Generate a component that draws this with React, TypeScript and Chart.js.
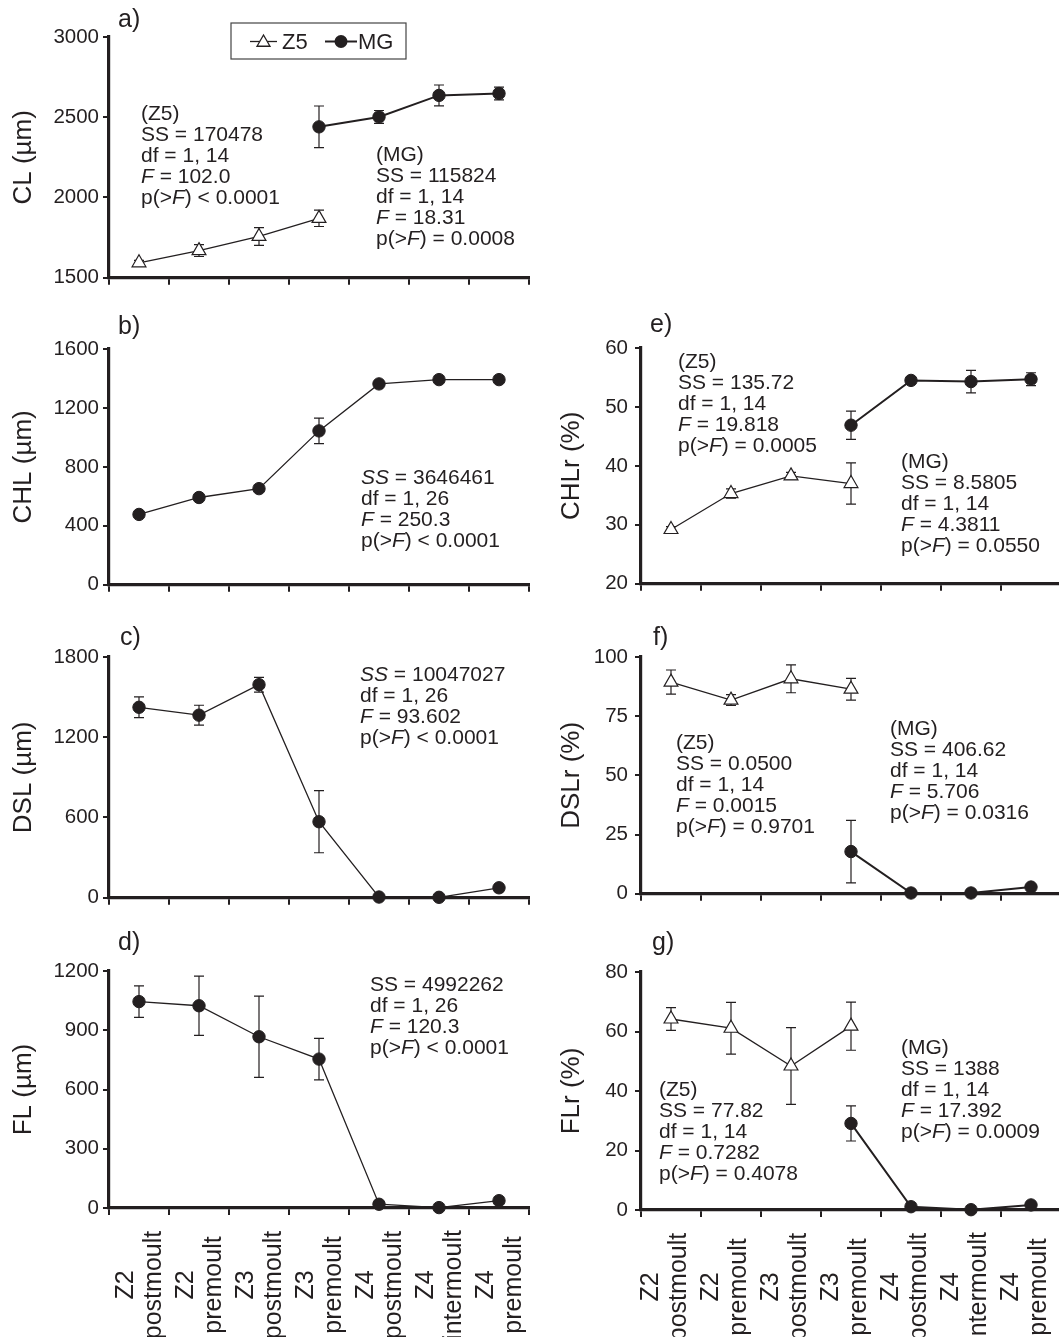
import React, { useEffect, useRef } from 'react';
import { Chart, registerables } from 'chart.js';

Chart.register(...registerables);

const FONT = "'Liberation Sans', Arial, Helvetica, sans-serif";
const INK = '#231f20';
Chart.defaults.font.family = FONT;
Chart.defaults.color = INK;

// ---------- data ----------
const stages: string[][] = [
  ['Z2', 'postmoult'],
  ['Z2', 'premoult'],
  ['Z3', 'postmoult'],
  ['Z3', 'premoult'],
  ['Z4', 'postmoult'],
  ['Z4', 'intermoult'],
  ['Z4', 'premoult'],
];

// a) CL (µm)
const clTicks = [1500, 2000, 2500, 3000];
const clZ5 = [1593, 1669, 1757, 1870, null, null, null];
const clZ5Err = [15, 37, 55, 51, null, null, null];
const clMG = [null, null, null, 2440, 2502, 2636, 2648];
const clMGErr = [null, null, null, 130, 40, 65, 40];

// b) CHL (µm)
const chlTicks = [0, 400, 800, 1200, 1600];
const chl = [477, 592, 652, 1044, 1363, 1392, 1392];
const chlErr = [10, 15, 15, 87, 15, 12, 12];

// c) DSL (µm)
const dslTicks = [0, 600, 1200, 1800];
const dsl = [1424, 1365, 1593, 568, 5, 3, 74];
const dslErr = [78, 74, 55, 232, 5, 5, 25];

// d) FL (µm)
const flTicks = [0, 300, 600, 900, 1200];
const fl = [1045, 1024, 867, 754, 19, 2, 37];
const flErr = [80, 150, 206, 105, 10, 3, 10];

// e) CHLr (%)
const chlrTicks = [20, 30, 40, 50, 60];
const chlrZ5 = [29.2, 35.3, 38.3, 37.0, null, null, null];
const chlrZ5Err = [0.5, 0.8, 0.6, 3.5, null, null, null];
const chlrMG = [null, null, null, 46.9, 54.5, 54.3, 54.7];
const chlrMGErr = [null, null, null, 2.4, 0.6, 1.9, 1.1];

// f) DSLr (%)
const dslrTicks = [0, 25, 50, 75, 100];
const dslrZ5 = [89.4, 81.8, 90.8, 86.4, null, null, null];
const dslrZ5Err = [5.1, 2.3, 5.9, 4.6, null, null, null];
const dslrMG = [null, null, null, 17.8, 0.3, 0.3, 2.8];
const dslrMGErr = [null, null, null, 13.2, 0.3, 0.3, 0.5];

// g) FLr (%)
const flrTicks = [0, 20, 40, 60, 80];
const flrZ5 = [64.2, 61.1, 48.4, 61.8, null, null, null];
const flrZ5Err = [3.8, 8.7, 12.9, 8.1, null, null, null];
const flrMG = [null, null, null, 29.1, 1.1, 0.1, 1.7];
const flrMGErr = [null, null, null, 5.9, 0.3, 0.1, 0.4];

// ---------- panel configuration ----------
type Series = { label: string; data: (number | null)[]; err: (number | null)[]; kind: 'tri' | 'dot'; width: number };
type PanelCfg = {
  id: string;
  col: 'L' | 'R';
  plotTop: number;
  plotBottom: number;
  ticks: number[];
  title: string;
  series: Series[];
  xLabels: boolean;
  legend?: boolean;
};

const panels: PanelCfg[] = [
  {
    id: 'a', col: 'L', plotTop: 37, plotBottom: 280, ticks: clTicks, title: 'CL (µm)', xLabels: false, legend: true,
    series: [
      { label: 'Z5', data: clZ5, err: clZ5Err, kind: 'tri', width: 1.3 },
      { label: 'MG', data: clMG, err: clMGErr, kind: 'dot', width: 2 },
    ],
  },
  {
    id: 'b', col: 'L', plotTop: 349, plotBottom: 587, ticks: chlTicks, title: 'CHL (µm)', xLabels: false,
    series: [{ label: 'all', data: chl, err: chlErr, kind: 'dot', width: 1.3 }],
  },
  {
    id: 'c', col: 'L', plotTop: 657, plotBottom: 900, ticks: dslTicks, title: 'DSL (µm)', xLabels: false,
    series: [{ label: 'all', data: dsl, err: dslErr, kind: 'dot', width: 1.3 }],
  },
  {
    id: 'd', col: 'L', plotTop: 971, plotBottom: 1208, ticks: flTicks, title: 'FL (µm)', xLabels: true,
    series: [{ label: 'all', data: fl, err: flErr, kind: 'dot', width: 1.3 }],
  },
  {
    id: 'e', col: 'R', plotTop: 348, plotBottom: 589, ticks: chlrTicks, title: 'CHLr (%)', xLabels: false,
    series: [
      { label: 'Z5', data: chlrZ5, err: chlrZ5Err, kind: 'tri', width: 1.3 },
      { label: 'MG', data: chlrMG, err: chlrMGErr, kind: 'dot', width: 2 },
    ],
  },
  {
    id: 'f', col: 'R', plotTop: 657, plotBottom: 899, ticks: dslrTicks, title: 'DSLr (%)', xLabels: false,
    series: [
      { label: 'Z5', data: dslrZ5, err: dslrZ5Err, kind: 'tri', width: 1.3 },
      { label: 'MG', data: dslrMG, err: dslrMGErr, kind: 'dot', width: 2 },
    ],
  },
  {
    id: 'g', col: 'R', plotTop: 972, plotBottom: 1210, ticks: flrTicks, title: 'FLr (%)', xLabels: true,
    series: [
      { label: 'Z5', data: flrZ5, err: flrZ5Err, kind: 'tri', width: 1.3 },
      { label: 'MG', data: flrMG, err: flrMGErr, kind: 'dot', width: 2 },
    ],
  },
];

const statBlocks: { left: number; top: number; lines: string[]; italicSS?: boolean }[] = [
  { left: 141, top: 102, lines: ['(Z5)', 'SS = 170478', 'df = 1, 14', 'F = 102.0', 'p(>F) < 0.0001'] },
  { left: 376, top: 143, lines: ['(MG)', 'SS = 115824', 'df = 1, 14', 'F = 18.31', 'p(>F) = 0.0008'] },
  { left: 361, top: 466, lines: ['SS = 3646461', 'df = 1, 26', 'F = 250.3', 'p(>F) < 0.0001'], italicSS: true },
  { left: 360, top: 663, lines: ['SS = 10047027', 'df = 1, 26', 'F = 93.602', 'p(>F) < 0.0001'], italicSS: true },
  { left: 370, top: 973, lines: ['SS = 4992262', 'df = 1, 26', 'F = 120.3', 'p(>F) < 0.0001'] },
  { left: 678, top: 350, lines: ['(Z5)', 'SS = 135.72', 'df = 1, 14', 'F = 19.818', 'p(>F) = 0.0005'] },
  { left: 901, top: 450, lines: ['(MG)', 'SS = 8.5805', 'df = 1, 14', 'F = 4.3811', 'p(>F) = 0.0550'] },
  { left: 676, top: 731, lines: ['(Z5)', 'SS = 0.0500', 'df = 1, 14', 'F = 0.0015', 'p(>F) = 0.9701'] },
  { left: 890, top: 717, lines: ['(MG)', 'SS = 406.62', 'df = 1, 14', 'F = 5.706', 'p(>F) = 0.0316'] },
  { left: 659, top: 1078, lines: ['(Z5)', 'SS = 77.82', 'df = 1, 14', 'F = 0.7282', 'p(>F) = 0.4078'] },
  { left: 901, top: 1036, lines: ['(MG)', 'SS = 1388', 'df = 1, 14', 'F = 17.392', 'p(>F) = 0.0009'] },
];

const panelLetters: { text: string; left: number; top: number }[] = [
  { text: 'a)', left: 118, top: 6 },
  { text: 'b)', left: 118, top: 313 },
  { text: 'c)', left: 120, top: 624 },
  { text: 'd)', left: 118, top: 929 },
  { text: 'e)', left: 650, top: 311 },
  { text: 'f)', left: 653, top: 624 },
  { text: 'g)', left: 652, top: 929 },
];

// ---------- plugins ----------
const errorBarPlugin = {
  id: 'errorBars',
  beforeDatasetsDraw(chart: any) {
    const ctx = chart.ctx;
    const ys = chart.scales.y;
    ctx.save();
    ctx.strokeStyle = INK;
    ctx.lineWidth = 1.2;
    chart.data.datasets.forEach((ds: any, i: number) => {
      const meta = chart.getDatasetMeta(i);
      const errs = ds.errors as (number | null)[];
      if (!errs) return;
      ds.data.forEach((v: number | null, j: number) => {
        const e = errs[j];
        if (v == null || e == null) return;
        const x = meta.data[j].x;
        const y1 = ys.getPixelForValue(v + e);
        const y2 = ys.getPixelForValue(v - e);
        ctx.beginPath();
        ctx.moveTo(x, y1);
        ctx.lineTo(x, y2);
        ctx.moveTo(x - 5, y1);
        ctx.lineTo(x + 5, y1);
        ctx.moveTo(x - 5, y2);
        ctx.lineTo(x + 5, y2);
        ctx.stroke();
      });
    });
    ctx.restore();
  },
};

function makeXLabelPlugin(dx: number, dy: number) {
  return {
    id: 'xLabels',
    afterDraw(chart: any) {
      const ctx = chart.ctx;
      const xs = chart.scales.x;
      const base = chart.chartArea.bottom + dy;
      ctx.save();
      ctx.fillStyle = INK;
      ctx.font = `25px ${FONT}`;
      ctx.textAlign = 'center';
      ctx.textBaseline = 'middle';
      (chart.data.labels as string[][]).forEach((lab, i) => {
        const x = xs.getPixelForValue(i) + dx;
        ctx.save();
        ctx.translate(x, base);
        ctx.rotate(-Math.PI / 2);
        const n = lab.length;
        lab.forEach((line, k) => {
          ctx.fillText(line, 0, (k - (n - 1) / 2) * 28);
        });
        ctx.restore();
      });
      ctx.restore();
    },
  };
}

function drawTri(ctx: CanvasRenderingContext2D, x: number, y: number, r: number) {
  ctx.beginPath();
  ctx.moveTo(x, y - r);
  ctx.lineTo(x + r * 0.866, y + r * 0.5);
  ctx.lineTo(x - r * 0.866, y + r * 0.5);
  ctx.closePath();
  ctx.fillStyle = '#fff';
  ctx.fill();
  ctx.stroke();
}

function makeLegendPlugin(offX: number, offY: number) {
  return {
    id: 'boxLegend',
    afterDraw(chart: any) {
      const ctx = chart.ctx;
      const X = (v: number) => v - offX;
      const Y = (v: number) => v - offY;
      ctx.save();
      ctx.strokeStyle = '#444';
      ctx.lineWidth = 1.2;
      ctx.strokeRect(X(231), Y(23), 175, 36);
      const cy = Y(41.5);
      ctx.strokeStyle = INK;
      // Z5
      ctx.lineWidth = 1.3;
      ctx.beginPath();
      ctx.moveTo(X(250), cy);
      ctx.lineTo(X(277), cy);
      ctx.stroke();
      drawTri(ctx, X(263.5), cy + 1, 7.5);
      // MG
      ctx.lineWidth = 2;
      ctx.beginPath();
      ctx.moveTo(X(325), cy);
      ctx.lineTo(X(357), cy);
      ctx.stroke();
      ctx.beginPath();
      ctx.arc(X(341), cy, 6.5, 0, Math.PI * 2);
      ctx.fillStyle = INK;
      ctx.fill();
      ctx.fillStyle = INK;
      ctx.font = `22px ${FONT}`;
      ctx.textAlign = 'left';
      ctx.textBaseline = 'middle';
      ctx.fillText('Z5', X(282), cy + 1);
      ctx.fillText('MG', X(358), cy + 1);
      ctx.restore();
    },
  };
}

// ---------- chart panel ----------
function Panel({ cfg }: { cfg: PanelCfg }) {
  const ref = useRef<HTMLCanvasElement | null>(null);
  const left = cfg.col === 'L' ? 0 : 530;
  const yw = cfg.col === 'L' ? 109 : 111;
  const padTop = 20;
  const padRight = 4;
  const xh = cfg.xLabels ? 1337 - cfg.plotBottom : 14;
  const width = yw + 420 + padRight;
  const height = padTop + (cfg.plotBottom - cfg.plotTop) + xh;
  const top = cfg.plotTop - padTop;

  useEffect(() => {
    const datasets = cfg.series.map((s) => ({
      label: s.label,
      data: s.data,
      errors: s.err,
      borderColor: INK,
      borderWidth: s.width,
      pointStyle: s.kind === 'tri' ? 'triangle' : 'circle',
      pointRadius: s.kind === 'tri' ? 8 : 6.2,
      pointBackgroundColor: s.kind === 'tri' ? '#ffffff' : INK,
      pointBorderColor: INK,
      pointBorderWidth: s.kind === 'tri' ? 1.2 : 1,
      tension: 0,
      spanGaps: false,
      clip: false,
      fill: false,
    }));
    const plugins: any[] = [errorBarPlugin];
    if (cfg.xLabels) plugins.push(makeXLabelPlugin(cfg.col === 'L' ? 1.5 : -5.5, 77));
    if (cfg.legend) plugins.push(makeLegendPlugin(left, top));
    const tickVals = cfg.ticks;
    const chart = new Chart(ref.current as HTMLCanvasElement, {
      type: 'line',
      data: { labels: stages as any, datasets: datasets as any },
      options: {
        responsive: false,
        animation: false,
        events: [],
        layout: { autoPadding: false, padding: { top: padTop, right: padRight, left: 0, bottom: 0 } },
        plugins: { legend: { display: false }, tooltip: { enabled: false }, title: { display: false } },
        scales: {
          x: {
            type: 'category',
            offset: true,
            grid: {
              display: true,
              offset: true,
              drawOnChartArea: false,
              drawTicks: true,
              tickLength: 7,
              tickWidth: 2,
              tickColor: INK,
              color: INK,
              lineWidth: 2,
            },
            border: { display: true, width: 3.2, color: INK },
            ticks: { display: false },
            afterFit: (s: any) => {
              s.height = xh;
            },
          } as any,
          y: {
            type: 'linear',
            min: tickVals[0],
            max: tickVals[tickVals.length - 1],
            afterBuildTicks: (s: any) => {
              s.ticks = tickVals.map((v) => ({ value: v }));
            },
            afterFit: (s: any) => {
              s.width = yw;
            },
            grid: {
              display: true,
              drawOnChartArea: false,
              drawTicks: true,
              tickLength: 6,
              tickWidth: 2,
              tickColor: INK,
              color: INK,
              lineWidth: 2,
            },
            border: { display: true, width: 3.2, color: INK },
            ticks: {
              font: { size: 20.5, family: FONT },
              color: INK,
              padding: cfg.col === 'L' ? 4 : 7,
              callback: (v: any) => String(v),
            },
            title: {
              display: true,
              text: cfg.title,
              color: INK,
              font: { size: 26, family: FONT },
              padding: { top: cfg.col === 'L' ? 8.4 : 26.4, bottom: 0 },
            },
          } as any,
        },
      },
      plugins,
    });
    return () => chart.destroy();
  }, []);

  return (
    <canvas
      ref={ref}
      width={width}
      height={height}
      style={{ position: 'absolute', left, top, width, height }}
    />
  );
}

function StatLine({ text, italicSS }: { text: string; italicSS?: boolean }) {
  const body: React.ReactNode[] = [];
  let rest = text;
  if (italicSS && rest.startsWith('SS')) {
    body.push(<i key="ss">SS</i>);
    rest = rest.slice(2);
  }
  const parts = rest.split('F');
  parts.forEach((p, i) => {
    if (i > 0) body.push(<i key={'f' + i}>F</i>);
    body.push(<span key={'p' + i}>{p}</span>);
  });
  return <div>{body}</div>;
}

export default function App() {
  return (
    <div
      style={{
        position: 'absolute',
        left: 0,
        top: 0,
        width: 1059,
        height: 1337,
        overflow: 'hidden',
        background: '#ffffff',
        fontFamily: FONT,
        color: INK,
      }}
    >
      {panels.map((p) => (
        <Panel key={p.id} cfg={p} />
      ))}
      {panelLetters.map((l) => (
        <div
          key={l.text}
          style={{ position: 'absolute', left: l.left, top: l.top, fontSize: 25, lineHeight: '25px', whiteSpace: 'nowrap' }}
        >
          {l.text}
        </div>
      ))}
      {statBlocks.map((b, i) => (
        <div
          key={i}
          style={{ position: 'absolute', left: b.left, top: b.top, fontSize: 21, lineHeight: '21px', whiteSpace: 'nowrap' }}
        >
          {b.lines.map((ln, k) => (
            <StatLine key={k} text={ln} italicSS={b.italicSS} />
          ))}
        </div>
      ))}
    </div>
  );
}
